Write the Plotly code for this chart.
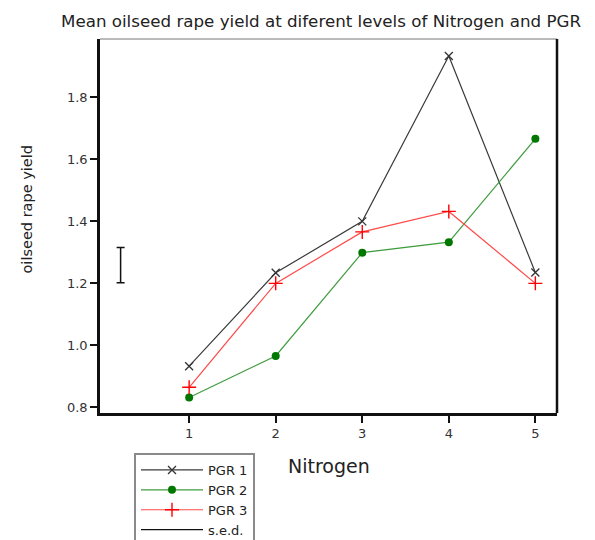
import plotly.graph_objects as go

nitrogen = [1, 2, 3, 4, 5]
pgr1 = [0.933, 1.234, 1.400, 1.933, 1.235]
pgr2 = [0.832, 0.966, 1.299, 1.333, 1.666]
pgr3 = [0.865, 1.200, 1.366, 1.432, 1.200]
sed_x = [0.208]
sed_center = [1.259]
sed_half = [0.057]
y_ticks = [0.8, 1.0, 1.2, 1.4, 1.6, 1.8]
y_tick_labels = ["0.8", "1.0", "1.2", "1.4", "1.6", "1.8"]

FONT = "DejaVu Sans, Liberation Sans, Arial, sans-serif"
OFF = 8            # page body margin offset
FIG_W = 595 - OFF
FIG_H = 540 - OFF
PLOT_H = 374       # 413 - 39 (screen px)
PLOT_W = 457       # 557 - 100 (screen px)

fig = go.Figure()
fig.add_trace(go.Scatter(x=nitrogen, y=pgr1, name="PGR 1", mode="lines+markers",
                         line=dict(color="#3a3a3a", width=1.2),
                         marker=dict(symbol="x-thin", size=8, line=dict(color="#333333", width=1.3))))
fig.add_trace(go.Scatter(x=nitrogen, y=pgr2, name="PGR 2", mode="lines+markers",
                         line=dict(color="#3f9c3f", width=1.2),
                         marker=dict(symbol="circle", size=8, color="#007800")))
fig.add_trace(go.Scatter(x=nitrogen, y=pgr3, name="PGR 3", mode="lines+markers",
                         line=dict(color="#ff4a4a", width=1.2),
                         marker=dict(symbol="cross-thin", size=10, line=dict(color="#ff0000", width=1.4))))
fig.add_trace(go.Scatter(x=sed_x, y=sed_center, name="s.e.d.", mode="lines",
                         line=dict(color="#111111", width=1.2),
                         error_y=dict(type="data", array=sed_half, symmetric=True,
                                      color="#111111", thickness=1.5, width=4)))

fig.update_layout(
    width=FIG_W, height=FIG_H,
    paper_bgcolor="white", plot_bgcolor="white",
    margin=dict(l=100 - OFF, r=38, t=39 - OFF, b=127, autoexpand=False),
    font=dict(family=FONT, color="#222222"),
    title=dict(text="Mean oilseed rape yield at diferent levels of Nitrogen and PGR",
               x=(61 - OFF) / FIG_W, xref="container", xanchor="left",
               y=1 - (21 - OFF) / FIG_H, yref="container", yanchor="middle",
               font=dict(size=16.7, color="#222222")),
    showlegend=True,
    legend=dict(x=(134 - 100) / PLOT_W, xanchor="left",
                y=(413 - 453) / PLOT_H, yanchor="top",
                xref="paper", yref="paper",
                bordercolor="#8a8a8a", borderwidth=2,
                font=dict(size=13, color="#222222"),
                itemwidth=62, tracegroupgap=0, traceorder="normal"),
    annotations=[
        dict(text="oilseed rape yield", textangle=-90, showarrow=False,
             xref="paper", yref="paper", x=(26.5 - 100) / PLOT_W, y=(413 - 210) / PLOT_H,
             xanchor="center", yanchor="middle",
             font=dict(size=14.5, color="#222222", family=FONT)),
        dict(text="Nitrogen", showarrow=False,
             xref="paper", yref="paper", x=0.5, y=(413 - 466) / PLOT_H,
             xanchor="center", yanchor="middle",
             font=dict(size=19, color="#222222", family=FONT)),
    ],
    shapes=[
        dict(type="line", xref="paper", yref="paper", x0=0, x1=1, y0=1, y1=1,
             line=dict(color="#777777", width=1)),
        dict(type="line", xref="paper", yref="paper", x0=1, x1=1, y0=0, y1=1,
             line=dict(color="#111111", width=2.5)),
    ],
)
fig.update_xaxes(range=[-0.03, 5.25], tickvals=nitrogen, ticktext=[str(v) for v in nitrogen],
                 ticks="outside", ticklen=7, tickwidth=2, tickcolor="#111111",
                 showline=True, linecolor="#111111", linewidth=2.5, mirror=False,
                 showgrid=False, zeroline=False, automargin=False,
                 tickfont=dict(size=13, color="#333333", family=FONT))
fig.update_yaxes(range=[0.782, 1.988], tickvals=y_ticks, ticktext=y_tick_labels,
                 ticks="outside", ticklen=7, tickwidth=2, tickcolor="#111111",
                 showline=True, linecolor="#111111", linewidth=2.5, mirror=False,
                 showgrid=False, zeroline=False, automargin=False,
                 tickfont=dict(size=13, color="#333333", family=FONT))

fig.write_html("out.html")
